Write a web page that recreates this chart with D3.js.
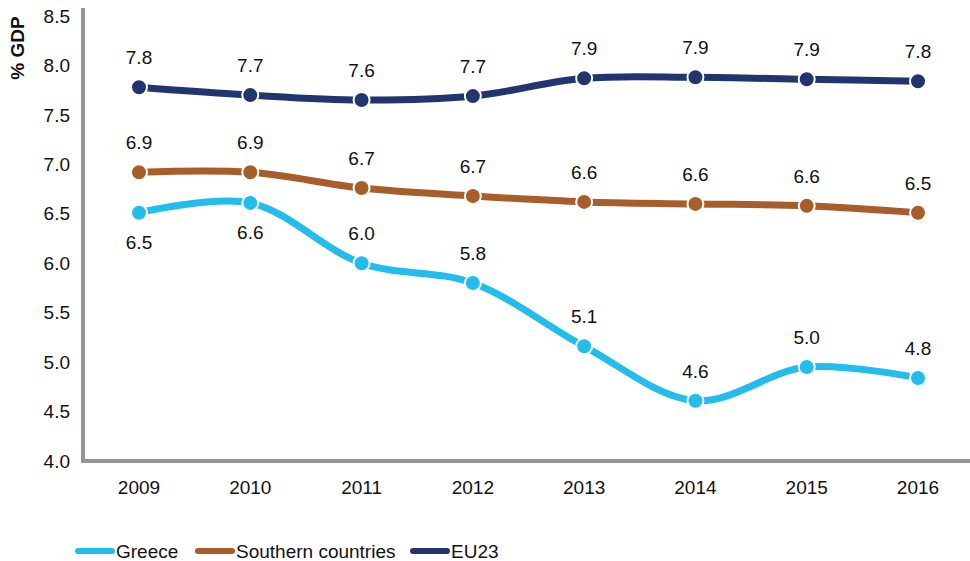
<!DOCTYPE html>
<html>
<head>
<meta charset="utf-8">
<script src="https://cdn.jsdelivr.net/npm/d3@7"></script>
<style>
  body { margin: 0; background: #fff; }
  svg { display: block; font-family: "Liberation Sans", Arial, sans-serif; }
</style>
</head>
<body>
<svg id="chart" width="970" height="561"></svg>
<script>
// Data
var years = ["2009", "2010", "2011", "2012", "2013", "2014", "2015", "2016"];
var greece = [6.51, 6.61, 6.00, 5.80, 5.16, 4.61, 4.95, 4.84];
var southern = [6.92, 6.92, 6.76, 6.68, 6.62, 6.60, 6.58, 6.51];
var eu23 = [7.78, 7.70, 7.65, 7.69, 7.87, 7.88, 7.86, 7.84];
var greeceLabels = ["6.5", "6.6", "6.0", "5.8", "5.1", "4.6", "5.0", "4.8"];
var southernLabels = ["6.9", "6.9", "6.7", "6.7", "6.6", "6.6", "6.6", "6.5"];
var eu23Labels = ["7.8", "7.7", "7.6", "7.7", "7.9", "7.9", "7.9", "7.8"];
var yTicks = [4.0, 4.5, 5.0, 5.5, 6.0, 6.5, 7.0, 7.5, 8.0, 8.5];

var series = [
  { name: "Greece", values: greece, labels: greeceLabels, color: "#22bdec", below: [true, true, false, false, false, false, false, false] },
  { name: "Southern countries", values: southern, labels: southernLabels, color: "#a85e2b", below: [] },
  { name: "EU23", values: eu23, labels: eu23Labels, color: "#22356f", below: [] }
];

var svg = d3.select("#chart");
var axisColor = "#939598";

var x = d3.scalePoint().domain(years).range([139, 918]);
var y = d3.scaleLinear().domain([4.0, 8.5]).range([461, 16]);

// axes
svg.append("line")
  .attr("x1", 83).attr("x2", 83).attr("y1", 8).attr("y2", 463)
  .attr("stroke", axisColor).attr("stroke-width", 4);
svg.append("line")
  .attr("x1", 81).attr("x2", 970).attr("y1", y(4.0)).attr("y2", y(4.0))
  .attr("stroke", axisColor).attr("stroke-width", 4);

svg.selectAll(".ytick").data(yTicks).enter()
  .append("text")
  .attr("x", 70)
  .attr("y", function (d) { return y(d); })
  .attr("dy", "0.35em")
  .attr("text-anchor", "end")
  .attr("font-size", 19)
  .attr("fill", "#111")
  .text(function (d) { return d3.format(".1f")(d); });

svg.selectAll(".xtick").data(years).enter()
  .append("text")
  .attr("x", function (d) { return x(d); })
  .attr("y", 494)
  .attr("text-anchor", "middle")
  .attr("font-size", 19)
  .attr("fill", "#111")
  .text(function (d) { return d; });

svg.append("text")
  .attr("transform", "translate(24,48) rotate(-90)")
  .attr("text-anchor", "middle")
  .attr("font-size", 19)
  .attr("font-weight", "bold")
  .attr("fill", "#111")
  .text("% GDP");

var line = d3.line()
  .x(function (d, i) { return x(years[i]); })
  .y(function (d) { return y(d); })
  .curve(d3.curveCatmullRom.alpha(0.5));

series.forEach(function (s) {
  var g = svg.append("g");
  g.append("path")
    .attr("d", line(s.values))
    .attr("fill", "none")
    .attr("stroke", s.color)
    .attr("stroke-width", 7)
    .attr("stroke-linecap", "round");
  g.selectAll("circle").data(s.values).enter()
    .append("circle")
    .attr("cx", function (d, i) { return x(years[i]); })
    .attr("cy", function (d) { return y(d); })
    .attr("r", 8)
    .attr("fill", s.color)
    .attr("stroke", "#fff")
    .attr("stroke-width", 2);
  g.selectAll("text").data(s.values).enter()
    .append("text")
    .attr("x", function (d, i) { return x(years[i]); })
    .attr("y", function (d, i) { return s.below[i] ? y(d) + 36 : y(d) - 23; })
    .attr("text-anchor", "middle")
    .attr("font-size", 19)
    .attr("fill", "#111")
    .text(function (d, i) { return s.labels[i]; });
});

// legend
var legendX = [78, 198, 413];
series.forEach(function (s, i) {
  svg.append("line")
    .attr("x1", legendX[i]).attr("x2", legendX[i] + 34)
    .attr("y1", 551).attr("y2", 551)
    .attr("stroke", s.color).attr("stroke-width", 6)
    .attr("stroke-linecap", "round");
  svg.append("text")
    .attr("x", legendX[i] + 38)
    .attr("y", 551)
    .attr("dy", "0.35em")
    .attr("font-size", 19)
    .attr("fill", "#111")
    .text(s.name);
});
</script>
</body>
</html>
